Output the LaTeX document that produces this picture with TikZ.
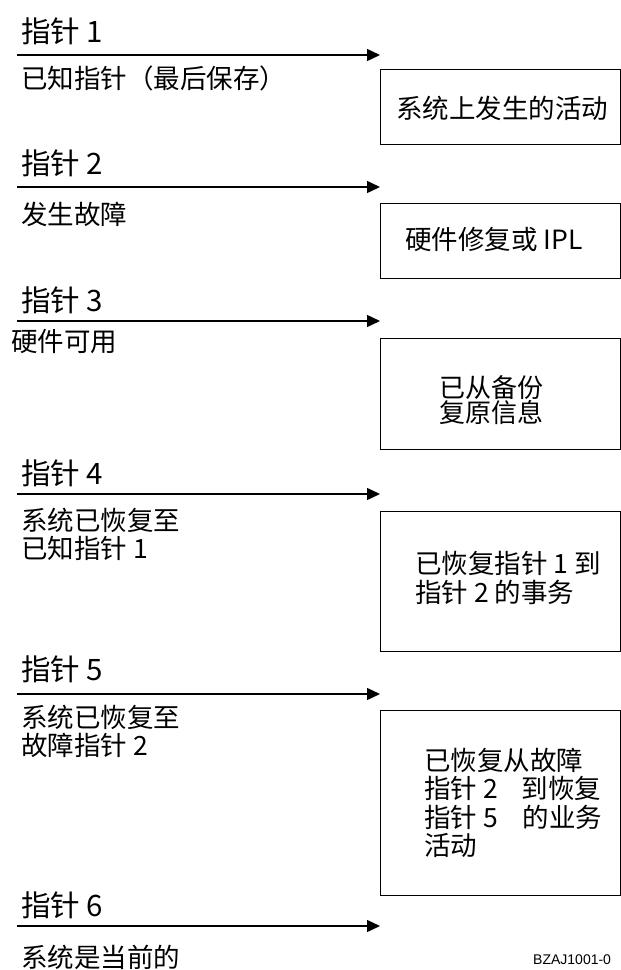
\documentclass[tikz,border=0pt]{standalone}
\usepackage{fontspec}
\setmainfont{Noto Sans CJK SC}
\newfontfamily\latinfont{Liberation Sans}
\usetikzlibrary{arrows.meta}
\begin{document}
\begin{tikzpicture}[x=1pt,y=-1pt,
  ptr/.style={anchor=west,inner sep=0pt,font=\fontsize{29.5}{30}\selectfont},
  lbl/.style={anchor=west,inner sep=0pt,align=left,font=\fontsize{26.5}{28}\selectfont},
  boxtxt/.style={inner sep=0pt,align=left,font=\fontsize{26.5}{28.5}\selectfont},
  stepbox/.style={draw,line width=1.2pt,inner sep=0pt},
  timeline/.style={line width=1.4pt,-{Triangle[length=13pt,width=12pt]}}]
\useasboundingbox (0,0) rectangle (621,970);
% timeline arrows
\foreach \i/\y in {1/55,2/187,3/321,4/494,5/694,6/926}{
  \coordinate (s\i) at (17,\y);
  \coordinate (e\i) at (380,\y);
  \draw[timeline] (s\i) -- (e\i);
}
% pointer labels
\node[ptr] (p1) at (21,31) {指针 1};
\node[ptr] (p2) at (21,163) {指针 2};
\node[ptr] (p3) at (21,300) {指针 3};
\node[ptr] (p4) at (21,473) {指针 4};
\node[ptr] (p5) at (21,669) {指针 5};
\node[ptr] (p6) at (21,905) {指针 6};
% sub labels
\node[lbl] (l1) at (21,78) {已知指针（最后保存）};
\node[lbl] (l2) at (21,214) {发生故障};
\node[lbl] (l3) at (11,342) {硬件可用};
\node[lbl] (l4) at (21,534) {系统已恢复至\\已知指针 1};
\node[lbl] (l5) at (21,731) {系统已恢复至\\故障指针 2};
\node[lbl] (l6) at (21,957) {系统是当前的};
% boxes
\node[stepbox,minimum width=240pt,minimum height=75pt,anchor=north west] (b1) at (380,69) {};
\node[stepbox,minimum width=240pt,minimum height=75pt,anchor=north west] (b2) at (380,203) {};
\node[stepbox,minimum width=240pt,minimum height=111pt,anchor=north west] (b3) at (380,338) {};
\node[stepbox,minimum width=240pt,minimum height=140pt,anchor=north west] (b4) at (380,511) {};
\node[stepbox,minimum width=240pt,minimum height=185pt,anchor=north west] (b5) at (380,710) {};
% box texts
\node[boxtxt] (t1) at (502,108) {系统上发生的活动};
\node[boxtxt,anchor=west] (t2) at (405,239) {硬件修复或 IPL};
\node[boxtxt,font=\fontsize{26}{25.5}\selectfont] (t3) at (491,400) {已从备份\\复原信息};
\node[boxtxt,anchor=west] (t4) at (415,578) {已恢复指针 1 到\\指针 2 的事务};
\node[boxtxt,anchor=west] (t5) at (424,803) {已恢复从故障\\指针 2\hspace{24pt}到恢复\\指针 5\hspace{25pt}的业务\\活动};
% figure id
\node[anchor=west,inner sep=0pt,font=\latinfont\fontsize{14}{16}\selectfont] (fid) at (533,960) {BZAJ1001-0};
\end{tikzpicture}
\end{document}
